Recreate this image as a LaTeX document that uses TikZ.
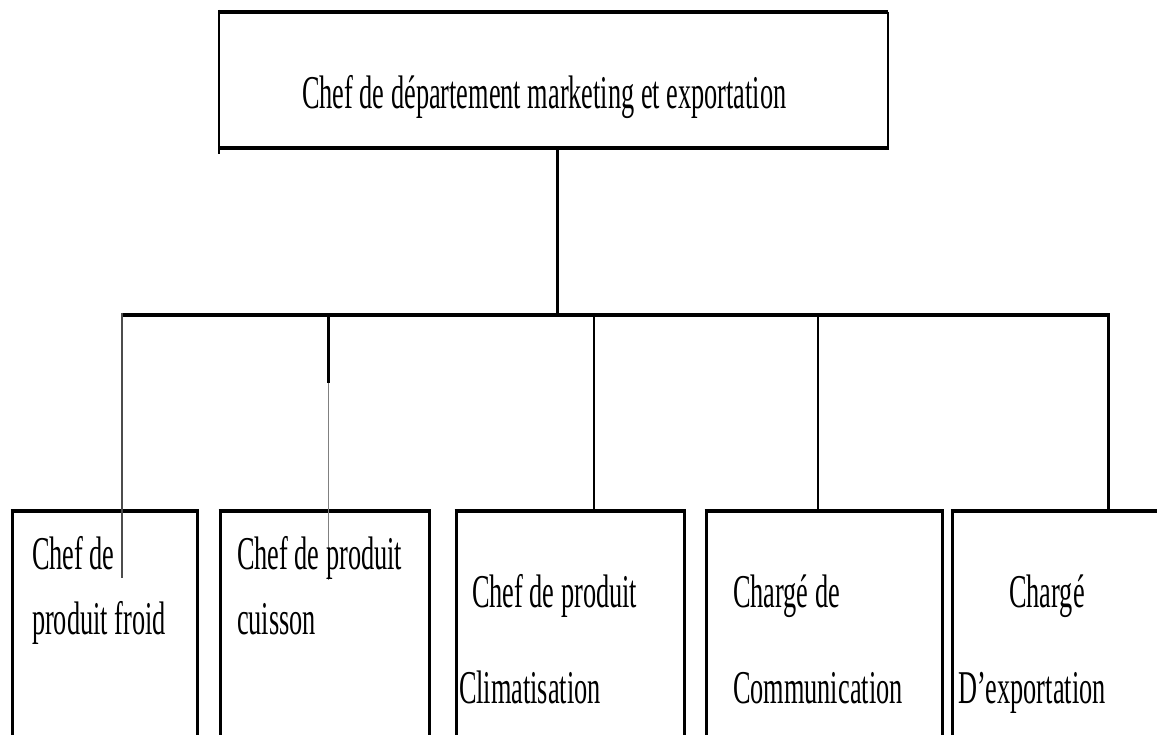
\documentclass[tikz,border=0pt]{standalone}
\usepackage{fontspec}
\newfontfamily\condserif[FakeStretch=0.56]{Liberation Serif}
\begin{document}
\begin{tikzpicture}[x=1pt,y=-1pt,
  shell/.style={draw=none,inner sep=0pt,outer sep=0pt,rectangle},
  lbl/.style={inner sep=0pt,outer sep=0pt,anchor=base west,font=\condserif\fontsize{47}{56}\selectfont},
  rule/.style={line width=4pt,line cap=butt},
  side/.style={line width=3pt},
  slim/.style={line width=2pt},
  wire/.style={line width=2.6pt},
  hair/.style={line width=1.3pt,black!70}]
\useasboundingbox (0,0) rectangle (1157,735);
\clip (0,0) rectangle (1157,735);

% head of department
\node[shell,minimum width=669pt,minimum height=136pt] (top) at (553.5,80) {};
\draw[slim] ([yshift=2pt]top.north west) -- ([yshift=-6pt]top.south west);
\draw[slim] (top.north east) -- ([yshift=-2pt]top.south east);
\draw[rule,line width=3.6pt] (top.north west) -- (top.north east);
\draw[rule] (top.south west) -- (top.south east);
\node[lbl] (ttop) at (302,109) {Chef de département marketing et exportation};

% subordinate boxes (open at the bottom)
\node[shell,minimum width=185pt,minimum height=240pt] (b1) at (104.5,631) {};
\node[shell,minimum width=209pt,minimum height=240pt] (b2) at (324.5,631) {};
\node[shell,minimum width=228pt,minimum height=240pt] (b3) at (570,631) {};
\node[shell,minimum width=236pt,minimum height=240pt] (b4) at (824,631) {};
\node[shell,minimum width=223pt,minimum height=240pt] (b5) at (1063.5,631) {};
\foreach \b in {b1,b2,b3,b4,b5}{
  \draw[side] (\b.south west) -- (\b.north west);
  \draw[side] (\b.south east) -- (\b.north east);
  \draw[rule] ([xshift=-1.5pt]\b.north west) -- ([xshift=1.5pt]\b.north east);
}

% bus and drop points
\coordinate (hub) at (557,315);
\coordinate (d1) at (122,315);
\coordinate (d2) at (328,315);
\coordinate (d3) at (594,315);
\coordinate (d4) at (818,315);
\coordinate (d5) at (1108,315);
\coordinate (e1) at (122,578);
\coordinate (k2) at (328,383);
\coordinate (e2) at (328,580);

\draw[wire,line width=3pt] (hub |- top.south) -- (hub);
\draw[rule] ([xshift=-1pt]d1) -- ([xshift=1.5pt]d5);
\draw[hair] ([yshift=2pt]d1) -- (e1);
\draw[wire,line width=3pt] (d2) -- (k2);
\draw[hair,line width=1pt,black!50] (k2) -- (e2);
\draw[wire] (d3) -- (d3 |- b3.north);
\draw[wire] (d4) -- (d4 |- b4.north);
\draw[wire,line width=3pt] (d5) -- (d5 |- b5.north);

% labels
\node[lbl] (t1a) at (32,569) {Chef de};
\node[lbl] (t1b) at (32,634) {produit froid};
\node[lbl] (t2a) at (237,569) {Chef de produit};
\node[lbl] (t2b) at (237,634) {cuisson};
\node[lbl] (t3a) at (472,607) {Chef de produit};
\node[lbl] (t3b) at (459,703) {Climatisation};
\node[lbl] (t4a) at (733,607) {Chargé de};
\node[lbl] (t4b) at (733,703) {Communication};
\node[lbl,anchor=base] (t5a) at (1047,607) {Chargé};
\node[lbl] (t5b) at (958,703) {D’exportation};
\end{tikzpicture}
\end{document}
